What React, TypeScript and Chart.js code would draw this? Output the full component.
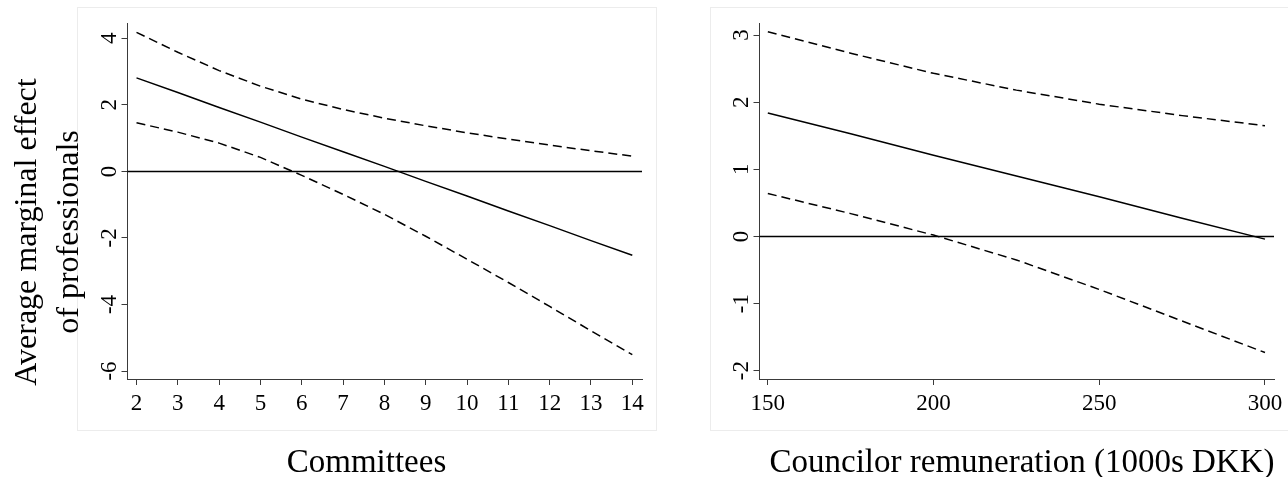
import React, { useEffect, useRef } from "react";
import { Chart, registerables } from "chart.js";

Chart.register(...registerables);

// ---------- Data ----------
const COMMITTEES = [2, 3, 4, 5, 6, 7, 8, 9, 10, 11, 12, 13, 14];
const COMMITTEES_EFFECT = [2.81, 2.37, 1.92, 1.48, 1.03, 0.59, 0.15, -0.3, -0.74, -1.19, -1.63, -2.08, -2.52];
const COMMITTEES_UPPER = [4.18, 3.58, 3.03, 2.56, 2.17, 1.86, 1.6, 1.37, 1.16, 0.97, 0.79, 0.62, 0.46];
const COMMITTEES_LOWER = [1.46, 1.18, 0.85, 0.42, -0.12, -0.69, -1.29, -1.95, -2.64, -3.34, -4.06, -4.79, -5.51];

const REMUNERATION = [150, 175, 200, 225, 250, 275, 300];
const REMUNERATION_EFFECT = [1.84, 1.53, 1.21, 0.9, 0.59, 0.27, -0.04];
const REMUNERATION_UPPER = [3.05, 2.73, 2.43, 2.18, 1.97, 1.8, 1.65];
const REMUNERATION_LOWER = [0.64, 0.34, 0.02, -0.35, -0.79, -1.26, -1.73];

const LEFT_X_TICKS = [2, 3, 4, 5, 6, 7, 8, 9, 10, 11, 12, 13, 14];
const LEFT_Y_TICKS = [-6, -4, -2, 0, 2, 4];
const RIGHT_X_TICKS = [150, 200, 250, 300];
const RIGHT_Y_TICKS = [-2, -1, 0, 1, 2, 3];

const LEFT_X_TITLE = "Committees";
const RIGHT_X_TITLE = "Councilor remuneration (1000s DKK)";
const Y_TITLE = ["Average marginal effect", "of professionals"];

// ---------- Styling ----------
const SERIF = '"Liberation Serif", "Times New Roman", serif';
const AXIS_COLOR = "#3a3a3a";

type Panel = {
  xs: number[];
  mid: number[];
  upper: number[];
  lower: number[];
  xTicks: number[];
  yTicks: number[];
  xMin: number;
  xMax: number;
  yMin: number;
  yMax: number;
  padding: { left: number; right: number; top: number; bottom: number };
  box: { x: number; y: number; w: number; h: number };
  xTitle: string;
  xTitleX: number;
  yTitle: string[] | null;
};

function makeChart(canvas: HTMLCanvasElement, p: Panel) {
  const pts = (ys: number[]) => p.xs.map((x, i) => ({ x, y: ys[i] }));
  const lineDs = (ys: number[], dash: number[]) => ({
    data: pts(ys),
    borderColor: "#000",
    borderWidth: 1.5,
    borderDash: dash,
    pointRadius: 0,
    tension: 0,
    fill: false,
  });

  const panelPlugin = {
    id: "panelDecor",
    beforeDraw(chart: any) {
      const ctx = chart.ctx;
      ctx.save();
      ctx.fillStyle = "#fff";
      ctx.fillRect(0, 0, chart.width, chart.height);
      ctx.strokeStyle = "#ececec";
      ctx.lineWidth = 1;
      ctx.strokeRect(p.box.x + 0.5, p.box.y + 0.5, p.box.w, p.box.h);
      ctx.restore();
    },
    beforeDatasetsDraw(chart: any) {
      const { ctx, chartArea, scales } = chart;
      const y0 = Math.round(scales.y.getPixelForValue(0)) + 0.5;
      ctx.save();
      ctx.strokeStyle = "#000";
      ctx.lineWidth = 1.3;
      ctx.beginPath();
      ctx.moveTo(chartArea.left, y0);
      ctx.lineTo(chartArea.right, y0);
      ctx.stroke();
      ctx.restore();
    },
    afterDraw(chart: any) {
      const { ctx, chartArea, scales } = chart;
      ctx.save();
      ctx.fillStyle = "#000";
      // x tick labels
      ctx.font = `23px ${SERIF}`;
      ctx.textAlign = "center";
      ctx.textBaseline = "alphabetic";
      p.xTicks.forEach((v) => {
        ctx.fillText(String(v), scales.x.getPixelForValue(v), chartArea.bottom + 31);
      });
      // y tick labels (rotated)
      p.yTicks.forEach((v) => {
        ctx.save();
        ctx.translate(chartArea.left - 12, scales.y.getPixelForValue(v));
        ctx.rotate(-Math.PI / 2);
        ctx.fillText(String(v), 0, 0);
        ctx.restore();
      });
      // x title
      ctx.font = `33px ${SERIF}`;
      ctx.fillText(p.xTitle, p.xTitleX, 472);
      // y title
      if (p.yTitle) {
        ctx.font = `32px ${SERIF}`;
        const cy = 232;
        const baselines = [36, 78];
        p.yTitle.forEach((line, i) => {
          ctx.save();
          ctx.translate(baselines[i], cy);
          ctx.rotate(-Math.PI / 2);
          ctx.fillText(line, 0, 0);
          ctx.restore();
        });
      }
      ctx.restore();
    },
  };

  const axis = (min: number, max: number, ticks: number[]) => ({
    type: "linear" as const,
    min,
    max,
    afterBuildTicks: (scale: any) => {
      scale.ticks = ticks.map((v) => ({ value: v }));
    },
    ticks: { display: false },
    grid: {
      display: true,
      drawOnChartArea: false,
      drawTicks: true,
      tickLength: 6,
      color: AXIS_COLOR,
      lineWidth: 1,
    },
    border: { display: true, color: AXIS_COLOR, width: 1 },
  });

  return new Chart(canvas, {
    type: "line",
    data: {
      datasets: [
        lineDs(p.upper, [9, 5]),
        lineDs(p.mid, []),
        lineDs(p.lower, [9, 5]),
      ],
    },
    options: {
      animation: false,
      responsive: false,
      maintainAspectRatio: false,
      layout: { padding: p.padding },
      plugins: { legend: { display: false }, tooltip: { enabled: false } },
      scales: {
        x: axis(p.xMin, p.xMax, p.xTicks),
        y: axis(p.yMin, p.yMax, p.yTicks),
      },
    } as any,
    plugins: [panelPlugin],
  });
}

const LEFT_PANEL: Panel = {
  xs: COMMITTEES,
  mid: COMMITTEES_EFFECT,
  upper: COMMITTEES_UPPER,
  lower: COMMITTEES_LOWER,
  xTicks: LEFT_X_TICKS,
  yTicks: LEFT_Y_TICKS,
  xMin: 1.782,
  xMax: 14.235,
  yMin: -6.24,
  yMax: 4.46,
  padding: { left: 121.5, right: 18, top: 23, bottom: 92 },
  box: { x: 77, y: 7, w: 579, h: 423 },
  xTitle: LEFT_X_TITLE,
  xTitleX: 366.5,
  yTitle: Y_TITLE,
};

const RIGHT_PANEL: Panel = {
  xs: REMUNERATION,
  mid: REMUNERATION_EFFECT,
  upper: REMUNERATION_UPPER,
  lower: REMUNERATION_LOWER,
  xTicks: RIGHT_X_TICKS,
  yTicks: RIGHT_Y_TICKS,
  xMin: 147.49,
  xMax: 302.72,
  yMin: -2.124,
  yMax: 3.18,
  padding: { left: 93.5, right: 14, top: 23, bottom: 92 },
  box: { x: 50, y: 7, w: 600, h: 423 },
  xTitle: RIGHT_X_TITLE,
  xTitleX: 362,
  yTitle: null,
};

export default function App() {
  const leftRef = useRef<HTMLCanvasElement>(null);
  const rightRef = useRef<HTMLCanvasElement>(null);

  useEffect(() => {
    const a = makeChart(leftRef.current!, LEFT_PANEL);
    const b = makeChart(rightRef.current!, RIGHT_PANEL);
    return () => {
      a.destroy();
      b.destroy();
    };
  }, []);

  return (
    <div
      style={{
        position: "absolute",
        left: 0,
        top: 0,
        width: 1288,
        height: 477,
        background: "#fff",
        overflow: "hidden",
      }}
    >
      <canvas
        ref={leftRef}
        width={660}
        height={477}
        style={{ position: "absolute", left: 0, top: 0, width: 660, height: 477 }}
      />
      <canvas
        ref={rightRef}
        width={628}
        height={477}
        style={{ position: "absolute", left: 660, top: 0, width: 628, height: 477 }}
      />
    </div>
  );
}
